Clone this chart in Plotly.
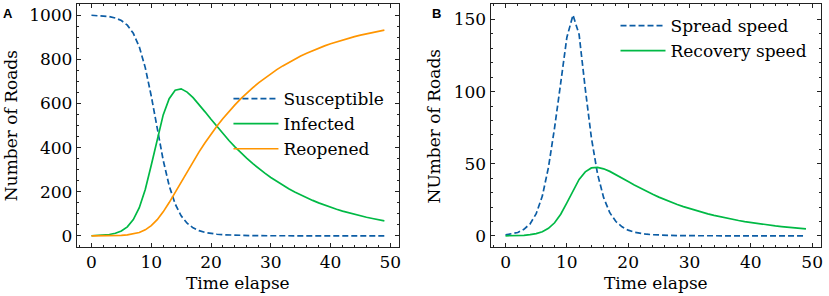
import plotly.graph_objects as go

# ---------------- data ----------------
t = list(range(50))

susceptible = [999.0, 998.0, 996.2, 992.8, 986.5, 975.0, 954.1, 917.4, 856.3, 762.0,
               633.7, 485.6, 343.0, 227.3, 145.0, 91.2, 57.5, 36.8, 24.0, 16.0,
               10.9, 7.6, 5.5, 4.0, 3.0, 2.3, 1.8, 1.4, 1.1, 0.9,
               0.7, 0.6, 0.5, 0.45, 0.39, 0.34, 0.30, 0.27, 0.24, 0.22,
               0.20, 0.18, 0.17, 0.16, 0.15, 0.14, 0.13, 0.13, 0.12, 0.12]

infected = [1.0, 1.9, 3.5, 6.6, 12.2, 22.6, 41.3, 73.9, 128.0, 210.4,
            319.8, 440.8, 547.9, 621.6, 660.0, 666.0, 651.1, 626.1, 595.3, 561.9,
            528.1, 494.8, 462.8, 432.3, 403.5, 376.4, 351.0, 327.2, 304.9, 284.1,
            264.7, 246.6, 229.7, 213.9, 199.2, 185.5, 172.8, 160.9, 149.8, 139.5,
            129.9, 121.0, 112.7, 104.9, 97.7, 91.0, 84.7, 78.9, 73.5, 68.4]

reopened = [0.0, 0.1, 0.3, 0.6, 1.3, 2.5, 4.7, 8.7, 15.7, 27.6,
            46.5, 73.6, 109.1, 151.1, 197.0, 244.4, 291.5, 337.1, 380.8, 422.1,
            461.0, 497.6, 531.7, 563.7, 593.5, 621.3, 647.2, 671.4, 694.0, 715.0,
            734.6, 752.8, 769.8, 785.7, 800.4, 814.2, 826.9, 838.8, 850.0, 860.3,
            869.9, 878.8, 887.1, 894.9, 902.2, 908.9, 915.2, 921.0, 926.4, 931.5]

spread_speed = [0.7, 1.3, 2.4, 4.6, 8.4, 15.4, 27.6, 47.5, 75.0, 106.0,
                137.5, 153.0, 139.5, 102.0, 68.0, 43.0, 26.5, 16.1, 10.0, 6.3,
                4.0, 2.6, 1.8, 1.2, 0.84, 0.60, 0.43, 0.32, 0.24, 0.18,
                0.14, 0.11, 0.08, 0.07, 0.05, 0.04, 0.04, 0.03, 0.03, 0.02,
                0.02, 0.02, 0.01, 0.01, 0.01, 0.01, 0.01, 0.01, 0.01, 0.01]

recovery_speed = [0.07, 0.13, 0.25, 0.47, 0.87, 1.61, 2.95, 5.28, 9.14, 15.03,
                  22.85, 31.49, 39.13, 44.40, 47.10, 47.50, 46.51, 44.72, 42.52, 40.14,
                  37.72, 35.34, 33.06, 30.88, 28.82, 26.89, 25.07, 23.37, 21.78, 20.29,
                  18.91, 17.61, 16.41, 15.28, 14.23, 13.25, 12.34, 11.49, 10.70, 9.96,
                  9.28, 8.64, 8.05, 7.49, 6.98, 6.50, 6.05, 5.64, 5.25, 4.89]

x_ticks = [0, 10, 20, 30, 40, 50]
y_ticks_a = [0, 200, 400, 600, 800, 1000]
y_ticks_b = [0, 50, 100, 150]

# ---------------- styling ----------------
W, H = 829, 296
BLUE, GREEN, ORANGE = "#0C5DA5", "#00B945", "#FF9500"
SERIF = "DejaVu Serif"
FS = 17
LW = 1.7


def px_x(p):
    return p / W


def px_y(p):
    return 1 - p / H


fig = go.Figure()

fig.add_trace(go.Scatter(x=t, y=susceptible, name="Susceptible", mode="lines",
                         line=dict(color=BLUE, width=LW, dash="6px,3px"),
                         xaxis="x", yaxis="y", legend="legend"))
fig.add_trace(go.Scatter(x=t, y=infected, name="Infected", mode="lines",
                         line=dict(color=GREEN, width=LW),
                         xaxis="x", yaxis="y", legend="legend"))
fig.add_trace(go.Scatter(x=t, y=reopened, name="Reopened", mode="lines",
                         line=dict(color=ORANGE, width=LW),
                         xaxis="x", yaxis="y", legend="legend"))
fig.add_trace(go.Scatter(x=t, y=spread_speed, name="Spread speed", mode="lines",
                         line=dict(color=BLUE, width=LW, dash="6px,3px"),
                         xaxis="x2", yaxis="y2", legend="legend2"))
fig.add_trace(go.Scatter(x=t, y=recovery_speed, name="Recovery speed", mode="lines",
                         line=dict(color=GREEN, width=LW),
                         xaxis="x2", yaxis="y2", legend="legend2"))

common = dict(showgrid=False, zeroline=False, showline=True, linecolor="#222",
              linewidth=1, mirror="allticks", ticks="inside", ticklen=4,
              tickwidth=1, tickcolor="#222",
              tickfont=dict(family=SERIF, size=FS, color="black"))

top, bottom = 4, 247
ydom = [px_y(bottom), px_y(top)]

fig.update_layout(
    width=W, height=H, margin=dict(l=0, r=0, t=0, b=0),
    paper_bgcolor="white", plot_bgcolor="white",
    xaxis=dict(domain=[px_x(77), px_x(400)], range=[-2.45, 51.45], anchor="y",
               tickvals=x_ticks, minor=dict(dtick=2, ticks="inside", ticklen=2,
                                            tickcolor="#222"), **common),
    yaxis=dict(domain=ydom, range=[-50, 1050], anchor="x",
               tickvals=y_ticks_a, minor=dict(dtick=50, ticks="inside", ticklen=2,
                                              tickcolor="#222"), **common),
    xaxis2=dict(domain=[px_x(491.7), px_x(823)], range=[-2.45, 51.45], anchor="y2",
                tickvals=x_ticks, minor=dict(dtick=2, ticks="inside", ticklen=2,
                                             tickcolor="#222"), **common),
    yaxis2=dict(domain=ydom, range=[-7.65, 160.65], anchor="x2",
                tickvals=y_ticks_b, minor=dict(dtick=10, ticks="inside", ticklen=2,
                                               tickcolor="#222"), **common),
    legend=dict(x=px_x(229), y=px_y(81), xanchor="left", yanchor="top",
                itemwidth=45,
                bgcolor="rgba(0,0,0,0)", font=dict(family=SERIF, size=FS, color="black")),
    legend2=dict(x=px_x(617), y=px_y(8), xanchor="left", yanchor="top",
                 itemwidth=45,
                 bgcolor="rgba(0,0,0,0)", font=dict(family=SERIF, size=FS, color="black")),
    showlegend=True,
)

annots = [
    dict(text="<b>A</b>", x=px_x(8.5), y=px_y(14)),
    dict(text="<b>B</b>", x=px_x(438), y=px_y(14)),
]
for a in annots:
    fig.add_annotation(text=a["text"], x=a["x"], y=a["y"], xref="paper", yref="paper",
                       showarrow=False, xanchor="center", yanchor="middle",
                       font=dict(family="Liberation Sans", size=13, color="black"))

titles = [
    ("Number of Roads", 10.7, 125.5, -90),
    ("NUmber of Roads", 435, 125.5, -90),
    ("Time elapse", 238.5, 283, 0),
    ("Time elapse", 657.4, 283, 0),
]
for txt, x, y, ang in titles:
    fig.add_annotation(text=txt, x=px_x(x), y=px_y(y), xref="paper", yref="paper",
                       showarrow=False, xanchor="center", yanchor="middle", textangle=ang,
                       font=dict(family=SERIF, size=FS, color="black"))

fig.write_html("out.html", config={"displayModeBar": False},
               post_script="document.body.style.margin='0px';document.body.style.padding='0px';")
